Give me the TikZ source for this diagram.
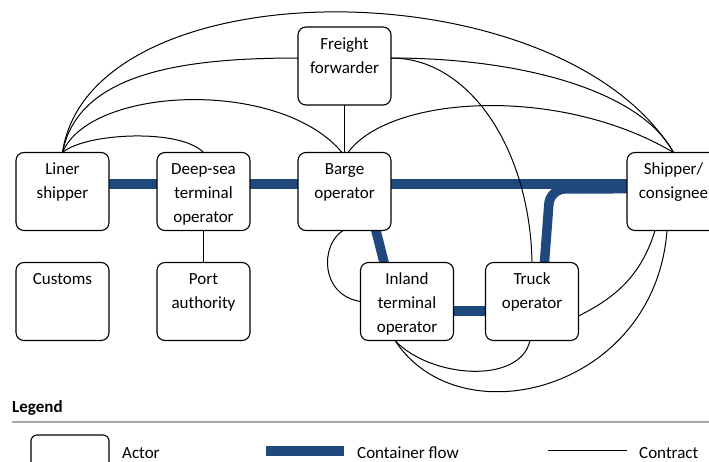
\documentclass[tikz,border=0pt]{standalone}
\usepackage{fontspec}
\setmainfont{Carlito}
\usetikzlibrary{backgrounds}
\definecolor{flowblue}{RGB}{31,73,125}
\definecolor{rulegray}{RGB}{166,166,166}
% top-aligned text inside an actor box
\newcommand{\actorlabel}[1]{\parbox[c][78pt][t]{93pt}{\centering\vspace*{5.2pt}\strut#1}}
\begin{document}
\begin{tikzpicture}[x=1pt,y=-1pt,
  actor/.style={draw, fill=white, line width=1.1pt, rounded corners=8pt,
    inner sep=0pt, outer sep=0pt, font=\fontsize{17}{24}\selectfont},
  flow/.style={draw=flowblue, line width=9.5pt},
  contract/.style={draw=black, line width=1pt},
  lgtext/.style={font=\fontsize{17}{24}\selectfont, inner sep=0pt, anchor=base west}]
\useasboundingbox (0,0) rectangle (709,461);

% actors
\node[actor] (ff)       at (344.5,66)    {\actorlabel{Freight\\forwarder}};
\node[actor] (liner)    at (62.5,191.5)  {\actorlabel{Liner\\shipper}};
\node[actor] (deepsea)  at (203.5,191.5) {\actorlabel{Deep-sea\\terminal\\operator}};
\node[actor] (barge)    at (344.5,191.5) {\actorlabel{Barge\\operator}};
\node[actor] (shipper)  at (673.5,191.5) {\actorlabel{Shipper/\\consignee}};
\node[actor] (customs)  at (62.5,301.5)  {\actorlabel{Customs}};
\node[actor] (port)     at (203.5,301.5) {\actorlabel{Port\\authority}};
\node[actor] (inland)   at (407,301.5)   {\actorlabel{Inland\\terminal\\operator}};
\node[actor] (truck)    at (532,301.5)   {\actorlabel{Truck\\operator}};

% container flows, behind the boxes
\begin{pgfonlayer}{background}
  \fill[white] (0,0) rectangle (709,461);
  \draw[flow] ([yshift=7.5pt]liner.center) -- ([yshift=7.5pt]deepsea.center);
  \draw[flow] ([yshift=7.5pt]deepsea.center) -- ([yshift=7.5pt]barge.center);
  \draw[flow] ([yshift=7.5pt]barge.center) -- ([yshift=7.5pt]shipper.center);
  \draw[flow] ([xshift=21.5pt]barge.center) -- ([xshift=-13pt]inland.center);
  \draw[flow] ([yshift=-9.5pt]inland.center) -- ([yshift=-9.5pt]truck.center);
  \draw[flow, rounded corners=15pt] ([xshift=9.5pt]truck.center) -- (550,189)
    -- ([yshift=3pt]shipper.center);
\end{pgfonlayer}

% contracts
\draw[contract] (liner.north) .. controls (90,-35) and (560,-35) .. (shipper.north);
\draw[contract] (liner.north) .. controls (78,72) and (185,58) .. ([yshift=8pt]ff.west);
\draw[contract] (liner.north) .. controls (90,86) and (280,78) .. ([xshift=-2.5pt]barge.north);
\draw[contract] (liner.north) .. controls (85,133) and (180,128) .. (deepsea.north);
\draw[contract] (ff.south) -- (barge.north);
\draw[contract] ([yshift=8pt]ff.east) .. controls (520,58) and (640,90) .. (shipper.north);
\draw[contract] ([yshift=8pt]ff.east) .. controls (470,58) and (530,150) .. (truck.north);
\draw[contract] ([xshift=3.5pt]barge.north) .. controls (390,95) and (560,85) .. (shipper.north);
\draw[contract] ([xshift=-1.5pt]barge.south) .. controls (320,245) and (320,295) .. (inland.west);
\draw[contract] (deepsea.south) -- (port.north);
\draw[contract] ([xshift=-2pt]truck.south) .. controls (520,385) and (430,378) .. ([xshift=-12pt]inland.south);
\draw[contract] ([xshift=-18.5pt]shipper.south) .. controls (640,280) and (610,300) .. ([yshift=-14.5pt]truck.east);
\draw[contract] ([xshift=-6.5pt]shipper.south) .. controls (655,390) and (460,440) .. ([xshift=-12pt]inland.south);

% legend
\node[lgtext, font=\fontsize{17}{24}\selectfont\bfseries] (lgtitle) at (12,412) {Legend};
\coordinate (rulel) at (12,422);
\coordinate (ruler) at (709,422);
\draw[rulegray, line width=1.5pt] (rulel) -- (ruler);
\node[draw, line width=1.1pt, rounded corners=6pt, minimum width=78pt,
  minimum height=60pt, inner sep=0pt] (lgbox) at (70,465) {};
\node[lgtext] (lgactor) at (122,458) {Actor};
\coordinate (flowa) at (266,451);
\coordinate (flowb) at (344,451);
\draw[flow, line width=10pt] (flowa) -- (flowb);
\node[lgtext] (lgflow) at (357,458) {Container flow};
\coordinate (conta) at (548,450);
\coordinate (contb) at (627,450);
\draw[contract] (conta) -- (contb);
\node[lgtext] (lgcontract) at (639,458) {Contract};
\end{tikzpicture}
\end{document}
